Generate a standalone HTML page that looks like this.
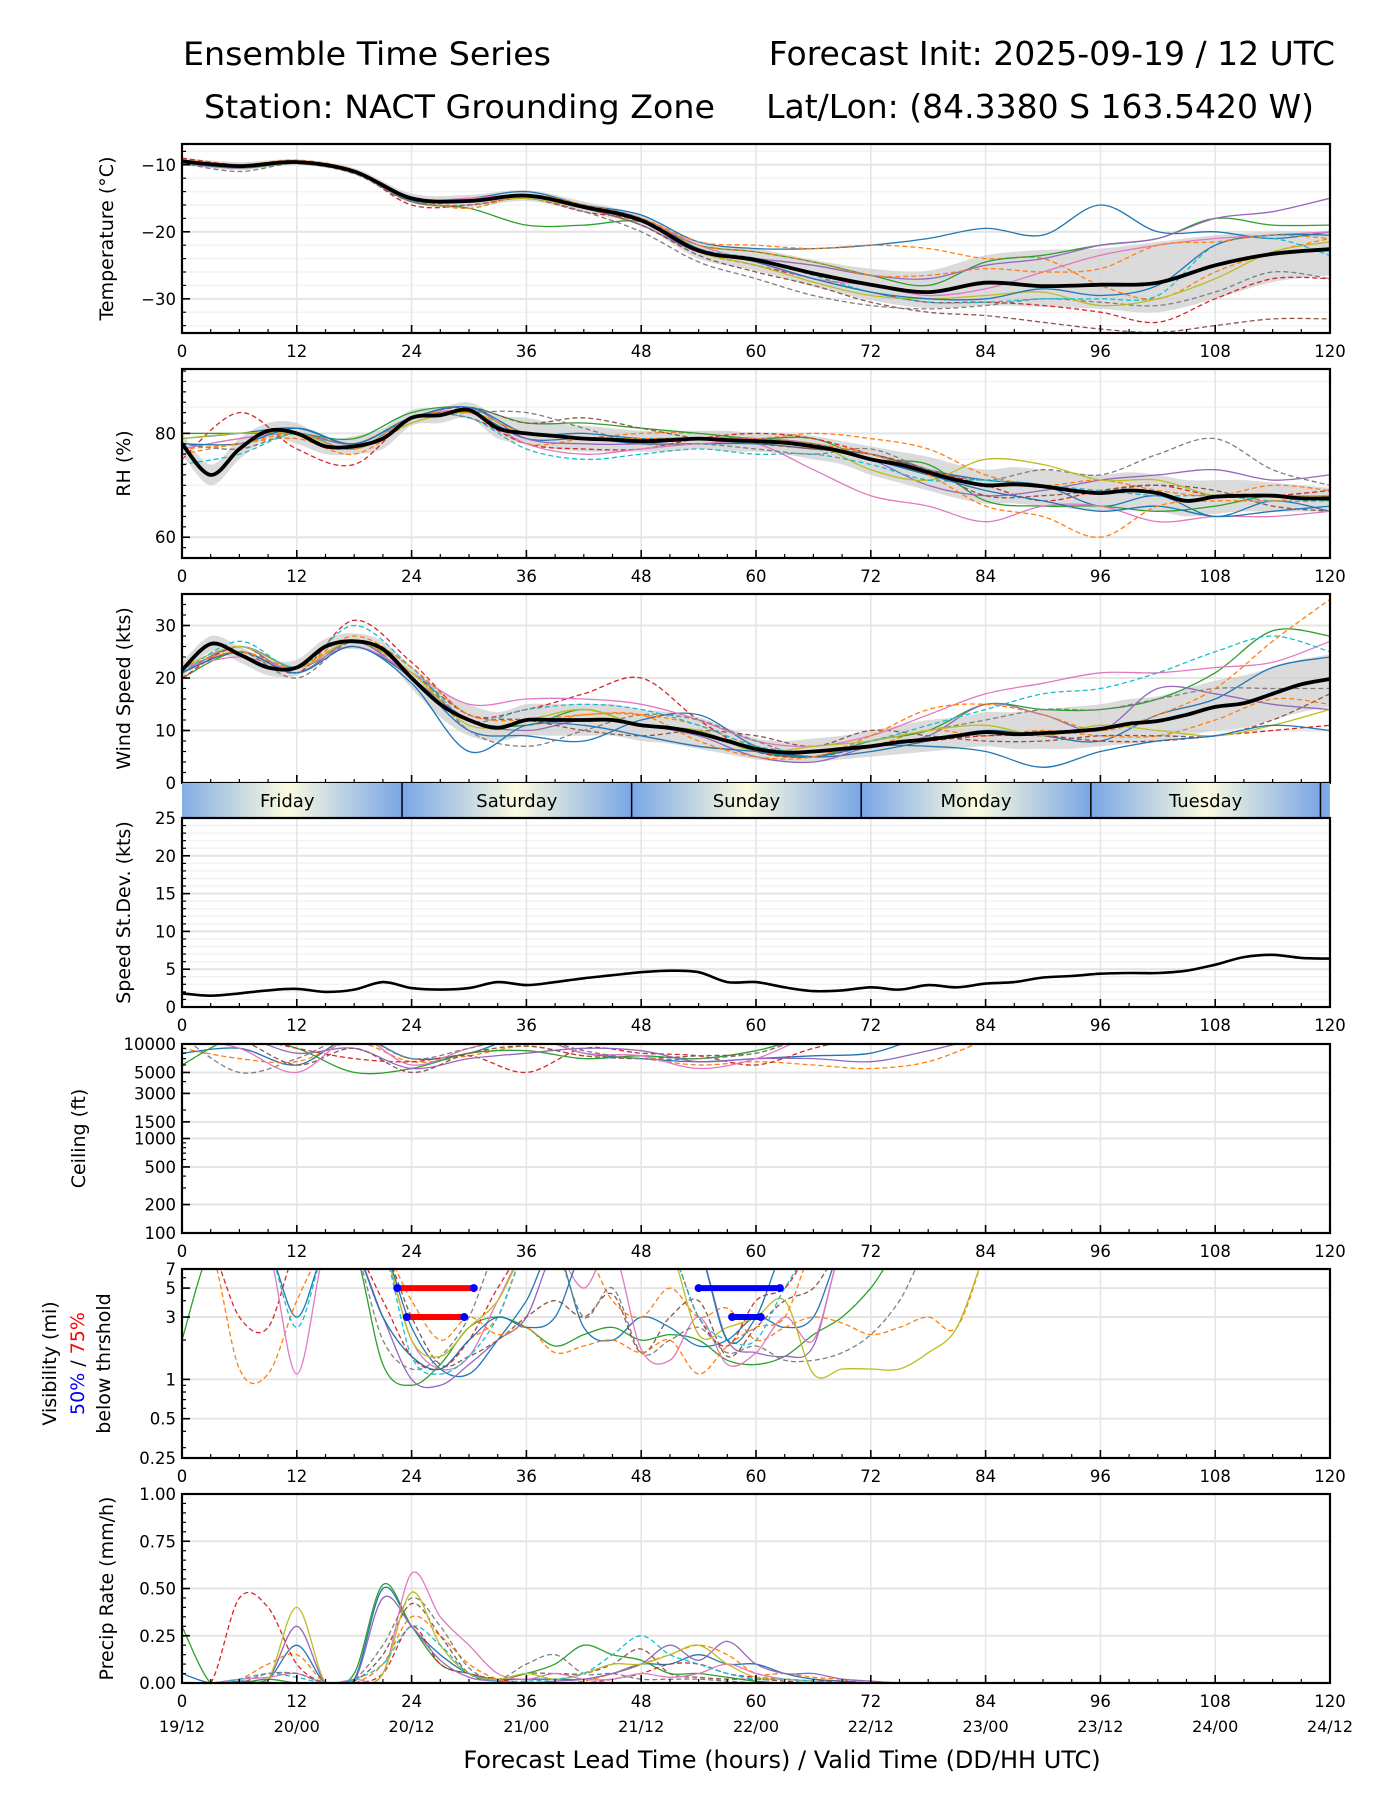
<!DOCTYPE html>
<html><head><meta charset="utf-8">
<style>
html,body{margin:0;padding:0;background:#fff;}
svg{display:block;font-family:"DejaVu Sans","Liberation Sans",sans-serif;}
</style></head>
<body>
<svg id="chart" xmlns="http://www.w3.org/2000/svg" width="1400" height="1800" viewBox="0 0 1400 1800">
<rect x="0" y="0" width="1400" height="1800" fill="#fff"/>
<text x="183" y="65" font-size="32" textLength="368" lengthAdjust="spacingAndGlyphs">Ensemble Time Series</text>
<text x="1335" y="65" font-size="33" text-anchor="end">Forecast Init: 2025-09-19 / 12 UTC</text>
<text x="204" y="118" font-size="32" textLength="511" lengthAdjust="spacingAndGlyphs">Station: NACT Grounding Zone</text>
<text x="1314" y="118" font-size="33" text-anchor="end">Lat/Lon: (84.3380 S 163.5420 W)</text>
<text x="782" y="1768" font-size="24" text-anchor="middle">Forecast Lead Time (hours) / Valid Time (DD/HH UTC)</text>
</svg>
<script>
// ---------- DATA ----------
const hours6 = [0,6,12,18,24,30,36,42,48,54,60,66,72,78,84,90,96,102,108,114,120];
const hours3 = [0,3,6,9,12,15,18,21,24,27,30,33,36,39,42,45,48,51,54,57,60,63,66,69,72,75,78,81,84,87,90,93,96,99,102,105,108,111,114,117,120];
const hoursShort3 = [0,3,6,9,12,15,18,21,24,27,30,33,36,39,42,45,48,51,54,57,60,63,66,69,72,75,78,81,84];
const hoursShort6 = [0,6,12,18,24,30,36,42,48,54,60,66,72,78,84];
const xTickLabels = ["0","12","24","36","48","60","72","84","96","108","120"];
const dateLabels = ["19/12","20/00","20/12","21/00","21/12","22/00","22/12","23/00","23/12","24/00","24/12"];
const dayNames = ["Friday","Saturday","Sunday","Monday","Tuesday"];
const dayBounds = [-1,23,47,71,95,119,143];

const tempMean = [-9.5,-10.2,-9.6,-11.0,-15.0,-15.4,-14.6,-16.3,-18.3,-22.8,-24.2,-26.2,-27.9,-29.0,-27.6,-28.1,-27.9,-27.6,-25.0,-23.3,-22.6];
const tempUpper = [-9,-9.6,-9.2,-10.5,-14.3,-14.5,-13.8,-15.5,-17.5,-21.5,-22.5,-24.2,-25.5,-25.8,-23.5,-22.7,-22.5,-21.5,-20.5,-20.0,-20.0];
const tempLower = [-10,-10.8,-10,-11.5,-15.7,-16.3,-15.4,-17.1,-19.1,-24,-25.8,-28.2,-30.2,-31.4,-31,-31.2,-31.5,-32,-30,-27.5,-26.5];
const tempM1 = [-9.3,-10,-9.5,-10.8,-15,-15,-14,-16,-17.5,-21.5,-22.5,-22.5,-22,-21,-19.5,-20.5,-16,-20,-20,-21,-20];
const tempM2 = [-9.6,-10.1,-9.7,-11,-15,-15.5,-14.5,-16.5,-18,-21.5,-22,-22.5,-22,-22.5,-24,-24,-28,-30,-26,-23,-21];
const tempM3 = [-9.5,-10.5,-9.8,-11.2,-15.5,-16.5,-19,-19,-18.5,-22,-23,-24.5,-26.5,-28,-24.5,-23.5,-22,-21,-18,-19,-19];
const tempM4 = [-9,-10,-9.5,-11,-16,-16,-15,-17,-18.5,-23,-25,-27,-29,-30.5,-30.5,-31,-32,-33.5,-30,-27,-27];
const tempM5 = [-9.8,-10.5,-9.6,-11,-15,-15.5,-15,-16.5,-19,-23,-24,-25,-26.5,-27,-25,-24,-22,-21,-18,-17,-15];
const tempM6 = [-9.5,-10.2,-9.8,-11.3,-15.5,-15.5,-15,-16.5,-19,-23.5,-26,-28,-30.5,-32,-32.5,-33.5,-34.5,-35,-34,-33,-33];
const tempM7 = [-9.4,-10,-9.5,-11,-15.2,-15,-14.5,-16,-18,-22,-24.5,-27,-28,-29.5,-28.5,-26,-23.5,-22,-21,-20.5,-20];
const tempM8 = [-9.8,-11,-9.8,-11.2,-15.5,-16,-15,-17,-20,-24.5,-27,-29.5,-31,-31.5,-31,-30,-30.5,-31,-29,-26,-27];
const tempM9 = [-9.6,-10.3,-9.7,-11.1,-15.2,-15.5,-15,-16.5,-18.5,-23,-25,-27.5,-29.5,-30,-29.5,-29,-31,-30,-27,-23,-21.5];
const tempM10 = [-9.7,-10.4,-9.6,-11.1,-15,-15.5,-14.8,-16.5,-18.3,-22.5,-24,-26.5,-29,-30.5,-30.5,-30,-30,-29.5,-22,-21,-23.5];
const tempM11 = [-9.5,-10.2,-9.5,-11,-15.3,-15.4,-14.5,-16,-18,-22.5,-24.5,-27,-29,-30,-30,-28.5,-29.5,-28,-22,-20.5,-20.5];
const tempM12 = [-9.2,-10,-9.3,-10.8,-15,-16.5,-14.5,-16,-18,-22,-23,-24.5,-26.5,-26.5,-25.5,-26,-25.5,-22,-21.5,-20.5,-21];

const rhMean = [78,72,77,80.5,80,77.5,77.5,79,83,83.5,84.5,81,80,79.5,79,78.8,78.5,78.7,79,78.7,78.5,78.2,77.5,76.5,75,74,72.5,71,70,70.2,69.8,69,68.5,69,68.5,67,67.8,68,68,67.5,67.5];
const rhUpper = [80,74,79,82,82,79,79.5,81,84.5,85,86,83.5,83,82,81.5,81,80.5,80.5,80.5,80.5,80,80,79.5,78.5,77.5,76.5,75.5,74,73,73.5,73,72.5,72,72.5,72,71,71,71,70.5,70,69.5];
const rhLower = [76,70,75,79,78,76,76,77,81.5,82,83,79,78,77,76.5,76.5,76.5,76.5,77,76.5,76.5,76,75,74,72,70.5,69,67.5,66.5,66.5,66,65.5,65,65.5,65,64,64.5,65,65,65,65];
const rhM1 = [78,78,81,78,83,85,80,80,79,79,78,78,75,72,69,67,65,66,64,65,66];
const rhM2 = [76,78,79,76,82,84,78,79,80,80,79,80,79,77,72,70,71,69,68,70,69];
const rhM3 = [80,80,80,79,84,85,82,82,81,80,79,79,75,74,67,66,66,65,66,68,67];
const rhM4 = [75,84,77,74,83,83,78,77,77,79,80,79,76,73,70,67,69,70,68,68,69];
const rhM5 = [77,79,80,78,83,85,79,78,78,79,79,78,75,70,68,69,71,72,73,71,72];
const rhM6 = [78,77,80,77,83,85,82,83,81,79,78,77,76,73,68,68,69,70,69,66,65];
const rhM7 = [77,79,80,77,83,84,78,76,77,78,78,73,68,66,63,66,66,63,64,64,65];
const rhM8 = [78,77,80,78,83,84,84,81,78,78,77,76,77,73,71,73,72,76,79,73,70];
const rhM9 = [79,80,80,77,82,84,80,79,79,79,78,78,73,71,75,74,71,71,68,68,68];
const rhM10 = [74,76,80,77,83,83,77,75,76,77,76,76,74,71,71,70,69,68,68,67,67];
const rhM11 = [79,80,81,78,83,84,79,79,78,78,78,77,76,73,71,70,66,68,64,67,65];
const rhM12 = [77,78,80,77,83,84,80,79,79,79,79,78,76,72,66,64,60,66,67,67,68];

const windMean = [21.5,26.5,24.5,22,22,26,27,25.5,20,15,12,10.5,12,12,12,12,11,10.5,9.5,8,6.5,5.8,6,6.5,7,7.8,8.3,9,9.7,9.3,9.5,9.8,10.3,11.3,11.8,13,14.5,15.2,17,18.8,19.8];
const windUpper = [23,28,26,23.5,23.5,27.5,28.5,27,22,17.5,15,13.5,15,15,15,15,14,13.5,12.5,10.5,8.5,8,8.5,9,10,11,12,12.5,13.5,13.5,14,14.5,15,16,16.5,18,19.5,20.5,22,23.5,24.5];
const windLower = [20,25,23,20.5,20.5,24.5,25.5,24,18,12.5,9,8,9,9,9,9,8,7.5,6.5,5.5,4.5,4,4,4.5,5,5.5,6,6.5,7,6.5,6.5,6.5,7,7.5,8,9,10,10.5,12,13.5,14.5];
const windM1 = [22,24,22,26,21,15,16,16,15,12,8,7,9,13,17,19,21,21,22,23,27];
const windM2 = [21,27,22,30,22,12,14,15,14,11,7,6,8,11,14,17,18,21,25,28,25];
const windM3 = [20,25,21,27,20,12,11,14,11,10,6,5,8,10,15,14,14,16,21,29,28];
const windM4 = [20,26,21,31,23,13,14,17,20,12,6,5,7,8,9,9,8,8,9,10,11];
const windM5 = [22,25,22,28,22,13,12,13,13,8,5,5,9,14,15,13,10,13,18,27,35];
const windM6 = [21,26,21,27,20,12,10,12,11,9,5,4,7,9,15,13,10,18,17,15,14];
const windM7 = [22,25,22,27,21,13,12,10,9,10,9,7,10,9,8,8,9,9,9,12,17];
const windM8 = [21,25,21,27,21,12,11,13,13,11,7,6,7,10,9,10,9,9,12,16,15];
const windM9 = [21,25,21,26,19,6,11,11,9,7,6,5,7,7,6,3,6,8,9,11,10];
const windM10 = [22,26,22,27,21,11,12,14,11,10,6,7,8,10,11,9,11,10,9,11,14];
const windM11 = [21,25,20,27,22,10,7,10,13,12,8,5,8,10,12,14,14,16,18,18,18];
const windM12 = [21,26,22,26,20,10,9,8,12,13,7,5,6,8,10,9,8,13,16,22,24];

const stdevValues = [1.8,1.5,1.8,2.2,2.4,2.0,2.3,3.3,2.5,2.3,2.5,3.3,2.9,3.3,3.8,4.2,4.6,4.8,4.6,3.3,3.3,2.6,2.1,2.2,2.6,2.3,2.9,2.6,3.1,3.3,3.9,4.1,4.4,4.5,4.5,4.8,5.6,6.6,6.9,6.5,6.4];

const ceilM1 = [8000,9000,6000,12000,7000,8000,12000,8000,7000,6500,7000,7500,8000,12000,12000];
const ceilM2 = [9000,7000,6500,10500,6500,7500,9500,7500,7000,6000,6500,6000,5500,6500,11000];
const ceilM3 = [6000,12000,9000,5000,5500,8000,8500,7000,7500,7000,8500,12000,12000,12000,12000];
const ceilM4 = [12000,12000,9000,7000,6500,7500,5000,9000,8000,7500,6000,9000,12000,12000,12000];
const ceilM5 = [12000,12000,8000,9000,5500,7000,8000,9000,8500,6500,7000,7000,6500,8500,12000];
const ceilM6 = [12000,11000,6000,9000,5000,8000,9500,7500,7000,7500,8000,12000,12000,12000,12000];
const ceilM7 = [12000,9000,5000,12000,6000,9000,12000,8000,7500,5500,7000,12000,12000,12000,12000];
const ceilM8 = [12000,5000,7000,12000,7000,9000,12000,8500,7000,7000,8000,12000,12000,12000,12000];

const visM1 = [10,10,10,10,3,10,10,10,2.5,1.2,1.1,2,4,10,2.5,2,3,2.5,1.8,2,3,2.5,3,10,10,10,10,10,10];
const visM2 = [10,10,1.2,1.1,4,10,10,3,1.5,1.2,2,3,10,10,10,4,3,5,3,3.5,2,2.5,3,2.7,2.2,2.5,3,2.5,10];
const visM3 = [2,10,10,10,10,10,10,1.3,0.9,1.3,2.5,3,2.5,1.8,2.2,2.5,2,2.2,2,1.4,1.3,1.5,2.2,3,5,10,10,10,10];
const visM4 = [10,10,3,2.5,10,10,10,4,1.5,1.2,2,5,10,10,10,10,10,10,3,1.8,4,5,10,10,10,10,10,10,10];
const visM5 = [10,10,10,10,10,10,10,3,1,0.9,1.3,2,3,10,10,10,10,10,10,2,1.6,1.5,1.8,10,10,10,10,10,10];
const visM6 = [10,10,10,10,10,10,10,10,3,1.3,1.5,2,3,4,3,4.5,1.6,3,4,1.5,2.5,4,5,10,10,10,10,10,10];
const visM7 = [10,10,10,10,1.1,10,10,10,2,1.2,1.5,4,10,10,5,10,1.7,1.4,3,1.3,1.6,3,2,10,10,10,10,10,10];
const visM8 = [10,10,10,10,10,10,10,2,1.2,1.5,3,10,10,10,3,5,1.6,2,2.5,1.6,1.8,1.4,1.4,1.6,2.2,4,10,10,10];
const visM9 = [10,10,10,10,10,10,10,10,2,1.5,2.5,4,10,10,10,10,10,10,2.2,2.5,3,4,1.1,1.2,1.2,1.2,1.6,2.5,10];
const visM10 = [10,10,10,10,2.5,10,10,10,1.5,1.1,1.5,3,10,10,10,10,10,10,3,2,2,5,10,10,10,10,10,10,10];
const visM11 = [10,10,10,10,10,10,10,3,1.5,1.2,2,3,2.5,3,10,10,10,10,10,2,3,10,10,10,10,10,10,10,10];
const visM12 = [10,10,10,10,10,10,10,10,4,2,3,2.2,2.5,1.6,1.8,2,1.6,2,1.1,1.8,2.5,3,10,10,10,10,10,10,10];
const threshStart = [22.5,23.5,54,57.5];
const threshEnd = [30.5,29.5,62.5,60.5];
const threshLevel = [5,3,5,3];
const threshColor = ["#ff0000","#ff0000","#0000ff","#0000ff"];

const precipM1 = [0,0,0.45,0.4,0.1,0,0,0.05,0.3,0.1,0.05,0.02,0,0,0,0.02,0.05,0.1,0.1,0.05,0.03,0.02,0.01,0.01,0,0,0,0,0];
const precipM2 = [0,0,0.02,0.03,0.05,0,0.02,0.05,0.58,0.35,0.2,0.05,0.02,0.05,0.02,0.02,0.05,0.03,0.05,0.1,0.05,0.02,0.01,0,0,0,0,0,0];
const precipM3 = [0.3,0,0,0.02,0,0,0.05,0.52,0.3,0.1,0.05,0.02,0.05,0.1,0.2,0.15,0.12,0.05,0.05,0.03,0.01,0,0,0,0,0,0,0,0];
const precipM4 = [0.05,0,0.01,0.02,0.2,0,0.02,0.5,0.3,0.15,0.05,0.02,0.02,0.02,0.02,0.05,0.1,0.1,0.15,0.1,0.1,0.05,0.02,0.01,0,0,0,0,0];
const precipM5 = [0,0,0.02,0.1,0.15,0,0,0.1,0.35,0.25,0.1,0.02,0,0,0.01,0.05,0.1,0.15,0.2,0.15,0.05,0.05,0.03,0.02,0.01,0,0,0,0];
const precipM6 = [0,0,0,0.02,0.4,0,0,0.05,0.48,0.2,0.05,0.02,0.05,0.02,0.05,0.1,0.1,0.15,0.2,0.1,0.03,0.02,0.01,0,0,0,0,0,0];
const precipM7 = [0,0,0.02,0.05,0.05,0,0.02,0.2,0.45,0.3,0.08,0.02,0.1,0.15,0.05,0.05,0.02,0.02,0.02,0.01,0,0,0,0,0,0,0,0,0];
const precipM8 = [0,0,0.02,0.05,0.03,0,0.02,0.1,0.3,0.2,0.05,0.01,0.01,0.02,0.05,0.15,0.25,0.15,0.1,0.05,0.02,0.02,0.01,0,0,0,0,0,0];
const precipM9 = [0,0,0,0.02,0.3,0,0.01,0.45,0.3,0.12,0.03,0.01,0,0.01,0.02,0.05,0.1,0.2,0.12,0.22,0.1,0.05,0.05,0.02,0.01,0,0,0,0];
const precipM10 = [0,0,0,0.05,0.05,0,0.01,0.15,0.42,0.25,0.05,0.02,0.05,0.05,0.05,0.1,0.18,0.05,0.03,0.02,0.02,0.01,0,0,0,0,0,0,0];

// ---------- DRAWING ----------
const NS = "http://www.w3.org/2000/svg";
const svg = document.getElementById("chart");
const PL = 182, PR = 1330, PH = 189;
const X = h => PL + h * (PR - PL) / 120;
const lin = (top, min, max) => v => top + PH * (max - v) / (max - min);
const logS = (top, min, max) => v => top + PH * (Math.log(max) - Math.log(v)) / (Math.log(max) - Math.log(min));
const COLORS = ["#1f77b4","#ff7f0e","#2ca02c","#d62728","#9467bd","#8c564b","#e377c2","#7f7f7f","#bcbd22","#17becf"];

function el(tag, attrs, parent) {
  const e = document.createElementNS(NS, tag);
  for (const k in attrs) e.setAttribute(k, attrs[k]);
  (parent || svg).appendChild(e);
  return e;
}
function smoothPath(xs, ys) {
  let d = "M" + xs[0].toFixed(1) + "," + ys[0].toFixed(1);
  for (let i = 0; i < xs.length - 1; i++) {
    const x0 = xs[Math.max(0, i - 1)], y0 = ys[Math.max(0, i - 1)];
    const x1 = xs[i], y1 = ys[i], x2 = xs[i + 1], y2 = ys[i + 1];
    const x3 = xs[Math.min(xs.length - 1, i + 2)], y3 = ys[Math.min(xs.length - 1, i + 2)];
    const c1x = x1 + (x2 - x0) / 6, c1y = y1 + (y2 - y0) / 6;
    const c2x = x2 - (x3 - x1) / 6, c2y = y2 - (y3 - y1) / 6;
    d += " C" + c1x.toFixed(1) + "," + c1y.toFixed(1) + " " + c2x.toFixed(1) + "," + c2y.toFixed(1) + " " + x2.toFixed(1) + "," + y2.toFixed(1);
  }
  return d;
}

function panel(name, top, Y, yTicks, yTickLabels, minorTicks, minorGrid, yTitleLines, showXLabels) {
  const g = el("g", {});
  
  
  const cp = el("clipPath", { id: "clip-" + name }, g);
  el("rect", { x: PL, y: top, width: PR - PL, height: PH }, cp);
  minorGrid.forEach(v => {
    const y = Y(v);
    const l = el("line", { x1: PL, x2: PR, y1: y, y2: y, stroke: "#f3f3f3", "stroke-width": 1.5 }, g);
    
    
  });
  for (let h = 12; h < 120; h += 12) {
    const l = el("line", { x1: X(h), x2: X(h), y1: top, y2: top + PH, stroke: "#e4e4e4", "stroke-width": 1.5 }, g);
    
    
  }
  yTicks.forEach(v => {
    const y = Y(v);
    const l = el("line", { x1: PL, x2: PR, y1: y, y2: y, stroke: "#e4e4e4", "stroke-width": 2 }, g);
    
    
  });
  const content = el("g", { "clip-path": "url(#clip-" + name + ")" }, g);
  
  
  const fr = el("rect", { x: PL, y: top, width: PR - PL, height: PH, fill: "none", stroke: "#000", "stroke-width": 2.2 }, g);
  
  
  for (let h = 0; h <= 120; h += 3) {
    const major = h % 12 === 0;
    const len = major ? 8 : 4;
    const t = el("line", { x1: X(h), x2: X(h), y1: top + PH, y2: top + PH - len, stroke: "#000", "stroke-width": major ? 1.6 : 1.2 }, g);
    
    
  }
  if (showXLabels) {
    xTickLabels.forEach((lab, i) => {
      const t = el("text", { x: X(i * 12), y: top + PH + 24, "font-size": 16.5, "text-anchor": "middle" }, g);
      t.textContent = lab;
      
      
    });
  }
  minorTicks.forEach(v => {
    const t = el("line", { x1: PL, x2: PL + 4, y1: Y(v), y2: Y(v), stroke: "#000", "stroke-width": 1.2 }, g);
    
    
  });
  yTicks.forEach((v, i) => {
    const y = Y(v);
    const t = el("line", { x1: PL, x2: PL + 8, y1: y, y2: y, stroke: "#000", "stroke-width": 1.6 }, g);
    
    
    const lb = el("text", { x: PL - 6, y: y + 6, "font-size": 16.5, "text-anchor": "end" }, g);
    lb.textContent = yTickLabels[i];
    
    
  });
  yTitleLines.forEach(line => {
    const t = el("text", { x: 0, y: 0, "font-size": 19, "text-anchor": "middle", transform: "translate(" + line.x + "," + (top + PH / 2) + ") rotate(-90)" }, g);
    line.parts.forEach(p => {
      const s = el("tspan", { fill: p.c || "#000" }, t);
      s.textContent = p.t;
    });
    
    
  });
  return content;
}

function drawMembers(content, name, hours, members, Y, clampFn) {
  members.forEach((m, i) => {
    const xs = hours.map(X);
    const ys = m.map(v => Y(clampFn ? clampFn(v) : v));
    const p = el("path", { d: smoothPath(xs, ys), fill: "none", stroke: COLORS[i % 10], "stroke-width": 1.3, "stroke-dasharray": i % 2 ? "5,3" : "none" }, content);
    
    
  });
}
function drawBand(content, name, hours, upper, lower, Y) {
  const xs = hours.map(X);
  let d = smoothPath(xs, upper.map(Y));
  const rx = xs.slice().reverse(), ry = lower.map(Y).reverse();
  d += " L" + smoothPath(rx, ry).slice(1) + " Z";
  const p = el("path", { d: d, fill: "#cfcfcf", "fill-opacity": 0.75, stroke: "none" }, content);
  
  
}
function drawMean(content, name, hours, vals, Y, w) {
  const p = el("path", { d: smoothPath(hours.map(X), vals.map(Y)), fill: "none", stroke: "#000", "stroke-width": w, "stroke-linejoin": "round" }, content);
  
  
}
const range = (a, b, s) => { const r = []; for (let v = a; v <= b + 1e-9; v += s) r.push(+v.toFixed(4)); return r; };

// Temperature
{
  const Y = lin(144, -35.1, -6.9);
  const c = panel("temperature", 144, Y, [-10, -20, -30], ["\u221210", "\u221220", "\u221230"], range(-34, -8, 2), range(-34, -8, 2), [{ x: 113, parts: [{ t: "Temperature (\u00b0C)" }] }], true);
  drawBand(c, "temperature", hours6, tempUpper, tempLower, Y);
  drawMembers(c, "temperature", hours6, [tempM1, tempM2, tempM3, tempM4, tempM5, tempM6, tempM7, tempM8, tempM9, tempM10, tempM11, tempM12], Y);
  drawMean(c, "temperature", hours6, tempMean, Y, 3.8);
}
// RH
{
  const Y = lin(369, 56, 92.4);
  const c = panel("rh", 369, Y, [60, 80], ["60", "80"], range(58, 92, 2), range(60, 90, 5), [{ x: 130, parts: [{ t: "RH (%)" }] }], true);
  drawBand(c, "rh", hours3, rhUpper, rhLower, Y);
  drawMembers(c, "rh", hours6, [rhM11, rhM2, rhM3, rhM4, rhM5, rhM6, rhM7, rhM8, rhM9, rhM10, rhM1, rhM12], Y);
  drawMean(c, "rh", hours3, rhMean, Y, 3.8);
}
// Wind
{
  const Y = lin(594, 0, 36);
  const c = panel("wind-speed", 594, Y, [0, 10, 20, 30], ["0", "10", "20", "30"], range(0, 36, 2), [], [{ x: 130, parts: [{ t: "Wind Speed (kts)" }] }], false);
  drawBand(c, "wind-speed", hours3, windUpper, windLower, Y);
  drawMembers(c, "wind-speed", hours6, [windM12, windM8, windM3, windM4, windM6, windM7, windM1, windM11, windM10, windM2, windM9, windM5], Y);
  drawMean(c, "wind-speed", hours3, windMean, Y, 3.8);
}
// Day bar
{
  const g = el("g", {});
  
  
  const defs = el("defs", {}, g);
  const gr = el("linearGradient", { id: "dayGrad", x1: "0", x2: "1", y1: "0", y2: "0" }, defs);
  el("stop", { offset: "0", "stop-color": "#79a6e6" }, gr);
  el("stop", { offset: "0.5", "stop-color": "#fbfbdf" }, gr);
  el("stop", { offset: "1", "stop-color": "#79a6e6" }, gr);
  const cp = el("clipPath", { id: "clip-day" }, g);
  el("rect", { x: PL, y: 783, width: PR - PL, height: 35 }, cp);
  const inner = el("g", { "clip-path": "url(#clip-day)" }, g);
  for (let i = 0; i < dayBounds.length - 1; i++) {
    const r = el("rect", { x: X(dayBounds[i]), y: 783, width: X(dayBounds[i + 1]) - X(dayBounds[i]), height: 35, fill: "url(#dayGrad)" }, inner);
    
    
    if (i > 0) {
      const s = el("line", { x1: X(dayBounds[i]), x2: X(dayBounds[i]), y1: 783, y2: 818, stroke: "#000", "stroke-width": 1.5 }, inner);
      
      
    }
    if (i < dayNames.length) {
      const t = el("text", { x: X((dayBounds[i] + dayBounds[i + 1]) / 2), y: 807, "font-size": 18, "text-anchor": "middle" }, inner);
      t.textContent = dayNames[i];
      
      
    }
  }
}
// Stdev
{
  const Y = lin(818, 0, 25);
  const c = panel("speed-stdev", 818, Y, [0, 5, 10, 15, 20, 25], ["0", "5", "10", "15", "20", "25"], range(0, 25, 1), range(0, 25, 1), [{ x: 130, parts: [{ t: "Speed St.Dev. (kts)" }] }], true);
  drawMean(c, "speed-stdev", hours3, stdevValues, Y, 2.6);
}
// Ceiling
{
  const Y = logS(1044, 100, 10000);
  const c = panel("ceiling", 1044, Y, [10000, 5000, 3000, 1500, 1000, 500, 200, 100], ["10000", "5000", "3000", "1500", "1000", "500", "200", "100"], [200, 300, 400, 500, 600, 700, 800, 900, 2000, 3000, 4000, 5000, 6000, 7000, 8000, 9000], [], [{ x: 85, parts: [{ t: "Ceiling (ft)" }] }], true);
  drawMembers(c, "ceiling", hoursShort6, [ceilM1, ceilM2, ceilM3, ceilM4, ceilM5, ceilM6, ceilM7, ceilM8], Y, v => Math.max(v, 101));
}
// Visibility
{
  const Y = logS(1269, 0.25, 7);
  const c = panel("visibility", 1269, Y, [7, 5, 3, 1, 0.5, 0.25], ["7", "5", "3", "1", "0.5", "0.25"], [0.3, 0.4, 0.6, 0.7, 0.8, 0.9, 2, 4, 6], [], [
    { x: 56, parts: [{ t: "Visibility (mi)" }] },
    { x: 84, parts: [{ t: "50%", c: "#0000ff" }, { t: " / " }, { t: "75%", c: "#ff0000" }] },
    { x: 110, parts: [{ t: "below thrshold" }] }], true);
  drawMembers(c, "visibility", hoursShort3, [visM1, visM2, visM3, visM4, visM5, visM6, visM7, visM8, visM9, visM10, visM11, visM12], Y, v => Math.max(v, 0.26));
  for (let i = 0; i < threshStart.length; i++) {
    const y = Y(threshLevel[i]);
    const l = el("line", { x1: X(threshStart[i]), x2: X(threshEnd[i]), y1: y, y2: y, stroke: threshColor[i], "stroke-width": 6, "stroke-linecap": "round" }, c);
    
    
    [threshStart[i], threshEnd[i]].forEach(h => {
      const d = el("circle", { cx: X(h), cy: y, r: 4, fill: "#0000ff" }, c);
      
      
    });
  }
}
// Precip
{
  const Y = lin(1494, 0, 1);
  const c = panel("precip-rate", 1494, Y, [0, 0.25, 0.5, 0.75, 1], ["0.00", "0.25", "0.50", "0.75", "1.00"], range(0, 1, 0.05), [], [{ x: 113, parts: [{ t: "Precip Rate (mm/h)" }] }], true);
  drawMembers(c, "precip-rate", hoursShort3, [precipM4, precipM5, precipM3, precipM1, precipM9, precipM10, precipM2, precipM7, precipM6, precipM8], Y);
  dateLabels.forEach((lab, i) => {
    const t = el("text", { x: X(i * 12), y: 1732, "font-size": 16, "text-anchor": "middle" });
    t.textContent = lab;
    
    
  });
}
</script>
</body></html>
